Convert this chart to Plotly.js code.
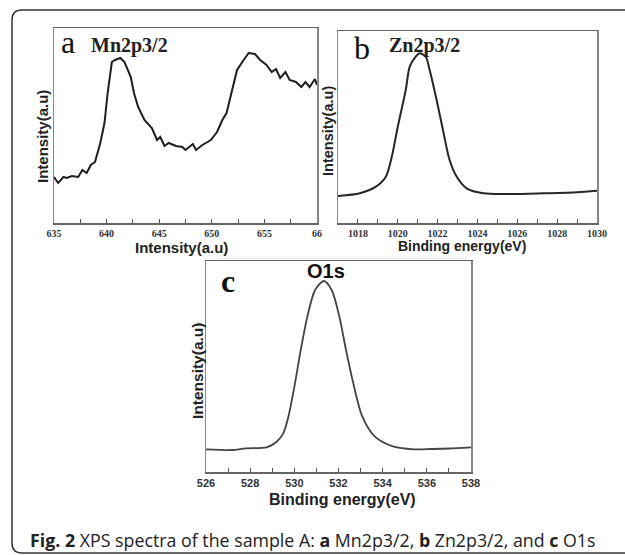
<!DOCTYPE html>
<html>
<head>
<meta charset="utf-8">
<script src="https://cdn.plot.ly/plotly-3.0.1.min.js"></script>
<style>html,body{margin:0;padding:0;background:#fff;}#chart{width:625px;height:555px;}</style>
</head>
<body>
<div id="chart"></div>
<script>
// Panel a: Mn2p3/2
var mnEnergy = [635.0,635.4,635.9,636.2,636.7,637.3,637.7,638.1,638.5,638.9,639.4,639.8,640.1,640.5,640.8,641.3,641.7,642.3,642.6,643.0,643.6,644.3,644.8,645.1,645.5,645.9,646.6,647.2,647.5,647.9,648.2,648.5,649.1,649.6,649.9,650.5,651.0,651.4,651.9,652.4,652.9,653.5,654.1,654.6,655.2,655.7,656.1,656.5,657.0,657.4,658.0,658.5,658.9,659.3,659.8,660.0];
var mnIntensity = [46,40,46,45,47,46,53,50,58,61,80,100,130,161,163,165,161,146,130,116,103,95,83,86,77,80,77,76,73,76,79,73,78,81,83,91,103,110,133,153,161,170,169,163,158,151,154,145,151,143,141,136,141,136,144,138];
var mnTickVals = [635,637.5,640,642.5,645,647.5,650,652.5,655,657.5,660];
var mnTickText = ['635','','640','','645','','650','','655','','66'];

// Panel b: Zn2p3/2
var znEnergy = [1017.0,1018.1,1018.9,1019.4,1019.7,1020.0,1020.4,1020.6,1020.9,1021.1,1021.4,1021.6,1021.95,1022.3,1022.6,1022.96,1023.46,1024.3,1025.6,1027.3,1029.0,1030.0];
var znIntensity = [27,29.7,36.3,46.3,66.3,96.3,133,156.3,166.3,169.7,166.3,153,123,90,63,46.3,34.7,29.7,29,29.7,30.7,32.3];
var znTickVals = [1017,1018,1019,1020,1021,1022,1023,1024,1025,1026,1027,1028,1029,1030];
var znTickText = ['','1018','','1020','','1022','','1024','','1026','','1028','','1030'];

// Panel c: O1s
var oEnergy = [526.0,527.2,527.8,528.75,529.2,529.5,529.73,530.03,530.29,530.59,530.94,531.34,531.69,532.04,532.34,532.67,533.08,533.65,534.5,535.4,536.2,537.0,538.0];
var oIntensity = [22.7,22,23.7,24.7,30.3,38.7,55.3,88.7,122,155.3,182,191,182,155.3,122,88.7,55.3,35.3,25.3,22.7,23,23.5,24.7];
var oTickVals = [526,527,528,529,530,531,532,533,534,535,536,537,538];
var oTickText = ['526','','528','','530','','532','','534','','536','','538'];

var W = 625, H = 555;
function fx(x){ return x / W; }
function fy(y){ return 1 - y / H; }

var traces = [
  {x: mnEnergy, y: mnIntensity, xaxis:'x', yaxis:'y', mode:'lines', line:{color:'#1e1e1e', width:2}, hoverinfo:'x+y'},
  {x: znEnergy, y: znIntensity, xaxis:'x2', yaxis:'y2', mode:'lines', line:{color:'#262626', width:2, shape:'spline', smoothing:0.8}, hoverinfo:'x+y'},
  {x: oEnergy, y: oIntensity, xaxis:'x3', yaxis:'y3', mode:'lines', line:{color:'#444', width:1.8, shape:'spline', smoothing:0.8}, hoverinfo:'x+y'}
];

var serifTick = {family:'Liberation Serif, Times New Roman, serif', size:10, color:'#333', weight:'bold'};
var sansTick = {family:'Liberation Sans, Arial, sans-serif', size:11, color:'#333', weight:'bold'};

function xax(dom, range, vals, text, font, anchor){
  return {domain: dom, range: range, anchor: anchor, showgrid:false, zeroline:false,
    showline:true, linecolor:'#666', linewidth:1.5, mirror:true,
    ticks:'inside', ticklen:4, tickwidth:1, tickcolor:'#555',
    tickmode:'array', tickvals: vals, ticktext: text, tickfont: font,
    fixedrange:true};
}
function yax(dom, range, anchor){
  return {domain: dom, range: range, anchor: anchor, showgrid:false, zeroline:false,
    showline:true, linecolor:'#888', linewidth:1.5, mirror:true,
    ticks:'', showticklabels:false, fixedrange:true};
}

function ann(text, x, y, font, angle){
  var a = {text:text, x:fx(x), y:fy(y), xref:'paper', yref:'paper', xanchor:'center', yanchor:'middle', showarrow:false, font:font};
  if (angle) a.textangle = angle;
  return a;
}
function sans(size){ return {family:'Liberation Sans, Arial, sans-serif', size:size, color:'#222'}; }
var serifBig = {family:'Liberation Serif, serif', size:32, color:'#111'};
var serifLbl = {family:'Liberation Serif, serif', size:20, color:'#222'};

var layout = {
  width: W, height: H,
  margin:{l:0,r:0,t:0,b:0},
  paper_bgcolor:'#fff', plot_bgcolor:'#fff',
  showlegend:false,
  xaxis: xax([fx(54), fx(317)], [635,660], mnTickVals, mnTickText, serifTick, 'y'),
  yaxis: yax([fy(223), fy(28)], [0,195], 'x'),
  xaxis2: xax([fx(338), fx(597)], [1017,1030], znTickVals, znTickText, serifTick, 'y2'),
  yaxis2: yax([fy(223), fy(31)], [0,192], 'x2'),
  xaxis3: xax([fx(206), fx(471)], [526,538], oTickVals, oTickText, sansTick, 'y3'),
  yaxis3: yax([fy(472), fy(261)], [0,211], 'x3'),
  shapes: [
    {type:'line', xref:'paper', yref:'paper', x0:fx(22), x1:fx(630), y0:fy(10), y1:fy(10), line:{color:'#333', width:1.5}},
    {type:'line', xref:'paper', yref:'paper', x0:fx(12), x1:fx(12), y0:fy(20), y1:fy(543), line:{color:'#333', width:1.5}},
    {type:'line', xref:'paper', yref:'paper', x0:fx(22), x1:fx(630), y0:fy(553), y1:fy(553), line:{color:'#333', width:1.5}},
    {type:'path', xref:'paper', yref:'paper', path:'M ' + fx(22) + ' ' + fy(10) + ' Q ' + fx(12) + ' ' + fy(10) + ' ' + fx(12) + ' ' + fy(20), line:{color:'#333', width:1.5}},
    {type:'path', xref:'paper', yref:'paper', path:'M ' + fx(12) + ' ' + fy(543) + ' Q ' + fx(12) + ' ' + fy(553) + ' ' + fx(22) + ' ' + fy(553), line:{color:'#333', width:1.5}},
    {type:'line', xref:'paper', yref:'paper', x0:fx(217), x1:fx(467), y0:fy(258), y1:fy(258), line:{color:'#e2e2e2', width:1}}
  ],
  annotations: [
    ann('a', 68, 42, serifBig),
    ann('<b>Mn2p3/2</b>', 129, 45, serifLbl),
    ann('b', 362, 48, serifBig),
    ann('<b>Zn2p3/2</b>', 424, 45, serifLbl),
    ann('<b>c</b>', 228, 281, serifBig),
    ann('<b>O1s</b>', 326, 271, {family:'Liberation Sans, Arial, sans-serif', size:20, color:'#111'}),
    ann('<b>Intensity(a.u)</b>', 42, 137, sans(15), -90),
    ann('<b>Intensity(a.u)</b>', 181, 247, sans(15)),
    ann('<b>Intensity(a.u)</b>', 328, 131, sans(14.5), -90),
    ann('<b>Binding energy(eV)</b>', 462, 246, sans(14)),
    ann('<b>Intensity(a.u)</b>', 198, 371, sans(15.5), -90),
    ann('<b>Binding energy(eV)</b>', 342, 499, sans(16)),
    {text:'<b>Fig. 2</b> XPS spectra of the sample A: <b>a</b> Mn2p3/2, <b>b</b> Zn2p3/2, and <b>c</b> O1s', x:fx(28), y:fy(540), xref:'paper', yref:'paper', xanchor:'left', yanchor:'middle', showarrow:false, font:{family:'Open Sans, Noto Sans, sans-serif', size:17.8, color:'#222'}}
  ]
};

Plotly.newPlot('chart', traces, layout, {displayModeBar:false, staticPlot:true});
</script>
</body>
</html>
